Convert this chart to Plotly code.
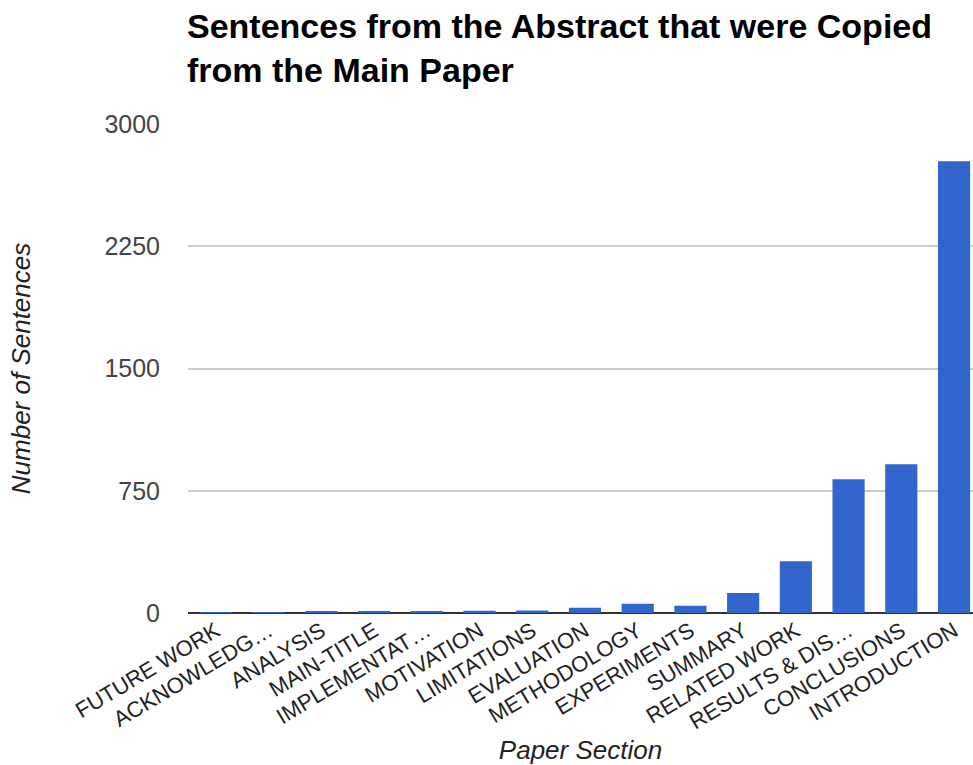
import plotly.graph_objects as go

sections = ["FUTURE WORK", "ACKNOWLEDG…", "ANALYSIS", "MAIN-TITLE", "IMPLEMENTAT…",
            "MOTIVATION", "LIMITATIONS", "EVALUATION", "METHODOLOGY", "EXPERIMENTS",
            "SUMMARY", "RELATED WORK", "RESULTS & DIS…", "CONCLUSIONS", "INTRODUCTION"]
sentences = [2, 5, 12, 12, 12, 14, 15, 32, 57, 45, 123, 318, 820, 912, 2771]
y_ticks = [0, 750, 1500, 2250, 3000]

FONT = "Liberation Sans, Arial, sans-serif"

fig = go.Figure(go.Bar(
    x=list(range(len(sections))),
    y=sentences,
    marker=dict(color="#3366cc", line=dict(width=0)),
))

fig.update_layout(
    width=973, height=765,
    paper_bgcolor="white", plot_bgcolor="white",
    margin=dict(l=188, r=0, t=124, b=152),
    bargap=0.39,
    showlegend=False,
    font=dict(family=FONT),
    title=dict(
        text="Sentences from the Abstract that were Copied<br>from the Main Paper",
        font=dict(family=FONT, size=34, color="#000000", weight="bold"),
        x=187 / 973, xref="container", xanchor="left",
        y=1 - 38 / 765, yref="container", yanchor="top",
    ),
    xaxis=dict(
        tickmode="array",
        tickvals=list(range(len(sections))),
        ticktext=sections,
        tickangle=-31,
        tickfont=dict(family=FONT, size=22, color="#222222"),
        range=[-0.53, 14.36],
        showgrid=False, zeroline=False, showline=False,
        ticks="",
        title=dict(text="<i>Paper Section</i>", font=dict(family=FONT, size=26, color="#222222"),
                   standoff=10),
    ),
    yaxis=dict(
        range=[0, 3000],
        tickmode="array",
        tickvals=y_ticks,
        ticktext=[str(v) for v in y_ticks],
        tickfont=dict(family=FONT, size=25, color="#444444"),
        showgrid=True, gridcolor="#cccccc", gridwidth=1.5,
        zeroline=True, zerolinecolor="#333333", zerolinewidth=2,
        ticks="", ticklabelstandoff=27,
        title=dict(text="<i>Number of Sentences</i>", font=dict(family=FONT, size=26, color="#222222"),
                   standoff=66),
    ),
)

fig.write_html("out.html")
